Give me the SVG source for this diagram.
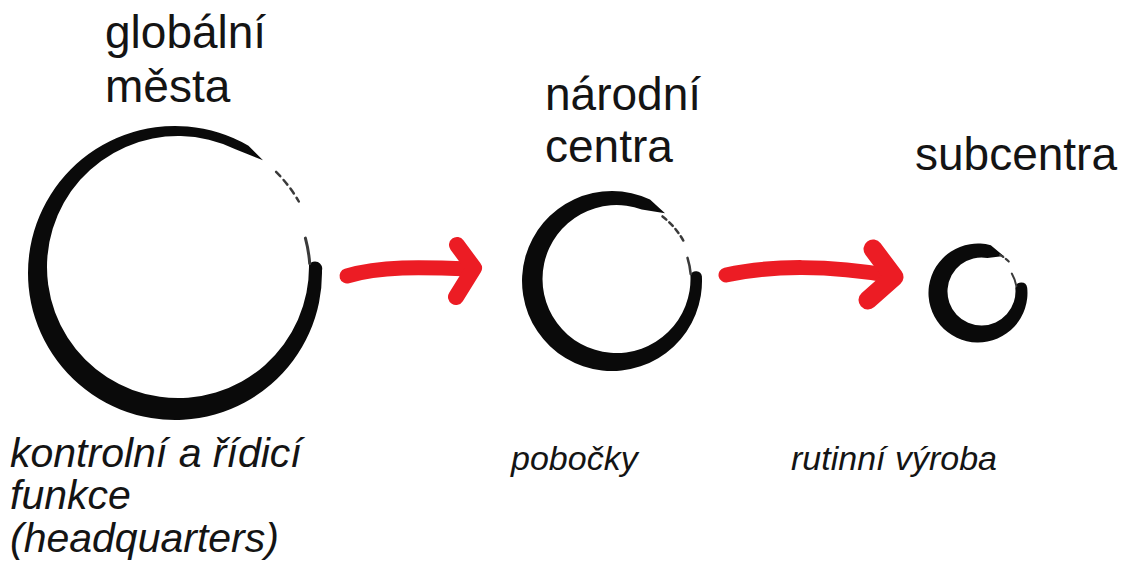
<svg xmlns="http://www.w3.org/2000/svg" width="1129" height="578" viewBox="0 0 1129 578">
<style>
.lbl{font-family:"Liberation Sans",Arial,sans-serif;fill:#141414}
.top{font-size:46px}
.sub{font-style:italic}
.ink{fill:#0a0a0a;stroke:none}
.frag{fill:none;stroke:#3a3a3a;stroke-linecap:round}
.arrow{fill:none;stroke:#ec1c24;stroke-linecap:round;stroke-linejoin:round}
</style>
<rect width="1129" height="578" fill="#ffffff"/>
<g id="node-global">
<path class="ink" d="M321.98 270.43 A147 147 0 1 1 248.5 145.7 L263 160.3 L235.4 149.3 A131 131 0 1 0 308.98 264.7 A7.2 7.2 0 0 1 321.98 270.43 Z"/>
<path class="frag" stroke-width="2.5" stroke-dasharray="6 5" d="M276.1 171.9 A141 141 0 0 1 298.8 201.5"/>
<path class="frag" stroke-width="3" d="M305.4 238.1 A135 135 0 0 1 309.7 263.6"/>
<text class="lbl top" x="105" y="48">globální</text>
<text class="lbl top" x="105" y="102">města</text>
<text class="lbl sub" font-size="41" x="10" y="467">kontrolní a řídicí</text>
<text class="lbl sub" font-size="41" x="10" y="509">funkce</text>
<text class="lbl sub" font-size="41" x="10" y="552">(headquarters)</text>
</g>
<g id="node-national">
<path class="ink" d="M701.9 276.3 A90 90 0 1 1 650 199.4 L665 213.2 L641.8 209.5 A74 74 0 1 0 690.4 275.1 A6 6 0 0 1 701.9 276.3 Z"/>
<path class="frag" stroke-width="2.5" stroke-dasharray="5 4" d="M662.5 216.4 A82 82 0 0 1 684.4 242.5"/>
<path class="frag" stroke-width="2.5" d="M687.5 257.9 A79 79 0 0 1 690.7 274.1"/>
<text class="lbl top" x="545" y="110">národní</text>
<text class="lbl top" x="545" y="162">centra</text>
<text class="lbl sub" font-size="34" x="511" y="470">pobočky</text>
</g>
<g id="node-sub">
<path class="ink" d="M1027.2 287.8 A49.5 49.5 0 1 1 990.8 245.2 L1003.8 256.1 L987.4 258 A34 34 0 1 0 1015.3 287.9 A6 6 0 0 1 1027.2 287.8 Z"/>
<path class="frag" stroke-width="2" stroke-dasharray="4 3" d="M1000 254.9 A44 44 0 0 1 1010.7 263.6"/>
<path class="frag" stroke-width="2" d="M1011.8 273.5 A39 39 0 0 1 1016.4 286.2"/>
<text class="lbl top" x="915" y="170">subcentra</text>
<text class="lbl sub" font-size="34" x="791" y="470">rutinní výroba</text>
</g>
<g id="connectors">
<g id="arrow-1">
<path class="arrow" stroke-width="15" d="M347 276 C380 266 420 267 471 269"/>
<path class="arrow" stroke-width="16" d="M457 245 L474 268 L456 297"/>
</g>
<g id="arrow-2">
<path class="arrow" stroke-width="15" d="M726 275 C770 265 830 265 892 276"/>
<path class="arrow" stroke-width="19" d="M873 249 L894 277 L868 300"/>
</g>
</g>
</svg>
